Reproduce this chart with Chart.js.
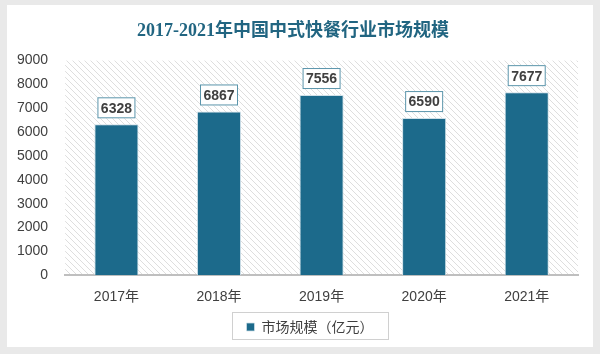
<!DOCTYPE html>
<html>
<head>
<meta charset="utf-8">
<script src="https://cdn.jsdelivr.net/npm/chart.js@4/dist/chart.umd.min.js"></script>
<style>
  html, body { margin: 0; padding: 0; background: #e9e9e9; }
  #wrap { width: 600px; height: 354px; }
</style>
</head>
<body>
<div id="wrap"><canvas id="c" width="600" height="354"></canvas></div>
<script>
// 数据
const years = ['2017年', '2018年', '2019年', '2020年', '2021年'];
const marketSize = [6328, 6867, 7556, 6590, 7677];
const yTicks = [0, 1000, 2000, 3000, 4000, 5000, 6000, 7000, 8000, 9000];

const barColor = '#1c6a8b';

// 斜线底纹
function makeHatch() {
  const p = document.createElement('canvas');
  p.width = 6; p.height = 6;
  const g = p.getContext('2d');
  g.fillStyle = '#ffffff';
  g.fillRect(0, 0, 6, 6);
  g.strokeStyle = '#dedede';
  g.lineWidth = 1;
  g.beginPath();
  g.moveTo(0, 0); g.lineTo(6, 6);
  g.moveTo(-3, 3); g.lineTo(3, 9);
  g.moveTo(3, -3); g.lineTo(9, 3);
  g.stroke();
  return p;
}

const cardBg = {
  id: 'cardBg',
  afterLayout(chart) {
    // 图例略偏右
    chart.legend.left += 17;
    chart.legend.right += 17;
  },
  beforeDraw(chart) {
    const ctx = chart.ctx;
    ctx.save();
    ctx.fillStyle = '#e9e9e9';
    ctx.fillRect(0, 0, chart.width, chart.height);
    ctx.fillStyle = '#ffffff';
    ctx.fillRect(7, 5, chart.width - 14, chart.height - 12);
    const a = chart.chartArea;
    ctx.fillStyle = ctx.createPattern(makeHatch(), 'repeat');
    ctx.fillRect(a.left, a.top, a.right - a.left, a.bottom - a.top);
    ctx.restore();
  },
  afterDraw(chart) {
    // 图例外框
    const lg = chart.legend;
    const ctx = chart.ctx;
    const cx = (lg.left + lg.right) / 2;
    const cy = (lg.top + lg.bottom) / 2;
    const w = 156, h = 27;
    ctx.save();
    ctx.strokeStyle = '#d0d0d0';
    ctx.lineWidth = 1;
    ctx.strokeRect(Math.round(cx - w / 2) + 0.5, Math.round(cy - h / 2) - 2.5, w, h);
    ctx.restore();
  }
};

// 数据标签
const valueBoxes = {
  id: 'valueBoxes',
  afterDatasetsDraw(chart) {
    const ctx = chart.ctx;
    const meta = chart.getDatasetMeta(0);
    ctx.save();
    ctx.font = 'bold 14px "Liberation Sans", Arial, sans-serif';
    ctx.textAlign = 'center';
    ctx.textBaseline = 'middle';
    meta.data.forEach((bar, i) => {
      const w = 38, h = 21;
      const x = bar.x - w / 2;
      const y = bar.y - 6 - h;
      ctx.fillStyle = '#ffffff';
      ctx.fillRect(x, y, w, h);
      ctx.strokeStyle = '#5b95ab';
      ctx.lineWidth = 1;
      ctx.strokeRect(x + 0.5, y + 0.5, w - 1, h - 1);
      ctx.fillStyle = '#404040';
      ctx.fillText(String(marketSize[i]), bar.x, y + h / 2 + 1);
    });
    ctx.restore();
  }
};

new Chart(document.getElementById('c'), {
  type: 'bar',
  data: {
    labels: years,
    datasets: [{
      label: '市场规模（亿元）',
      data: marketSize,
      backgroundColor: barColor,
      borderColor: '#cfe0e8',
      borderWidth: { left: 1, right: 1, top: 1, bottom: 0 },
      categoryPercentage: 0.43,
      barPercentage: 1
    }]
  },
  options: {
    responsive: false,
    animation: false,
    layout: { padding: { left: 8, right: 22, top: 8, bottom: 10 } },
    plugins: {
      title: {
        display: true,
        text: '2017-2021年中国中式快餐行业市场规模',
        color: '#216581',
        font: { family: '"Liberation Serif", "Noto Sans CJK SC", serif', size: 18, weight: 'bold' },
        padding: { top: 13, bottom: 18 }
      },
      legend: {
        position: 'bottom',
        labels: {
          color: '#404040',
          font: { family: '"Noto Sans CJK SC", sans-serif', size: 14 },
          boxWidth: 8, boxHeight: 8,
          padding: 8
        }
      },
      tooltip: { enabled: false }
    },
    scales: {
      x: {
        grid: { display: false },
        border: { color: '#bfbfbf', width: 2 },
        ticks: {
          color: '#404040',
          font: { family: '"Liberation Sans", "Noto Sans CJK SC", sans-serif', size: 14 },
          padding: 6
        }
      },
      y: {
        min: 0,
        max: 9000,
        afterBuildTicks(axis) { axis.ticks = yTicks.map(v => ({ value: v })); },
        grid: { display: false },
        border: { display: false },
        ticks: {
          color: '#404040',
          font: { family: '"Liberation Sans", sans-serif', size: 14 },
          padding: 9,
          callback: v => String(v)
        }
      }
    }
  },
  plugins: [cardBg, valueBoxes]
});
</script>
</body>
</html>
